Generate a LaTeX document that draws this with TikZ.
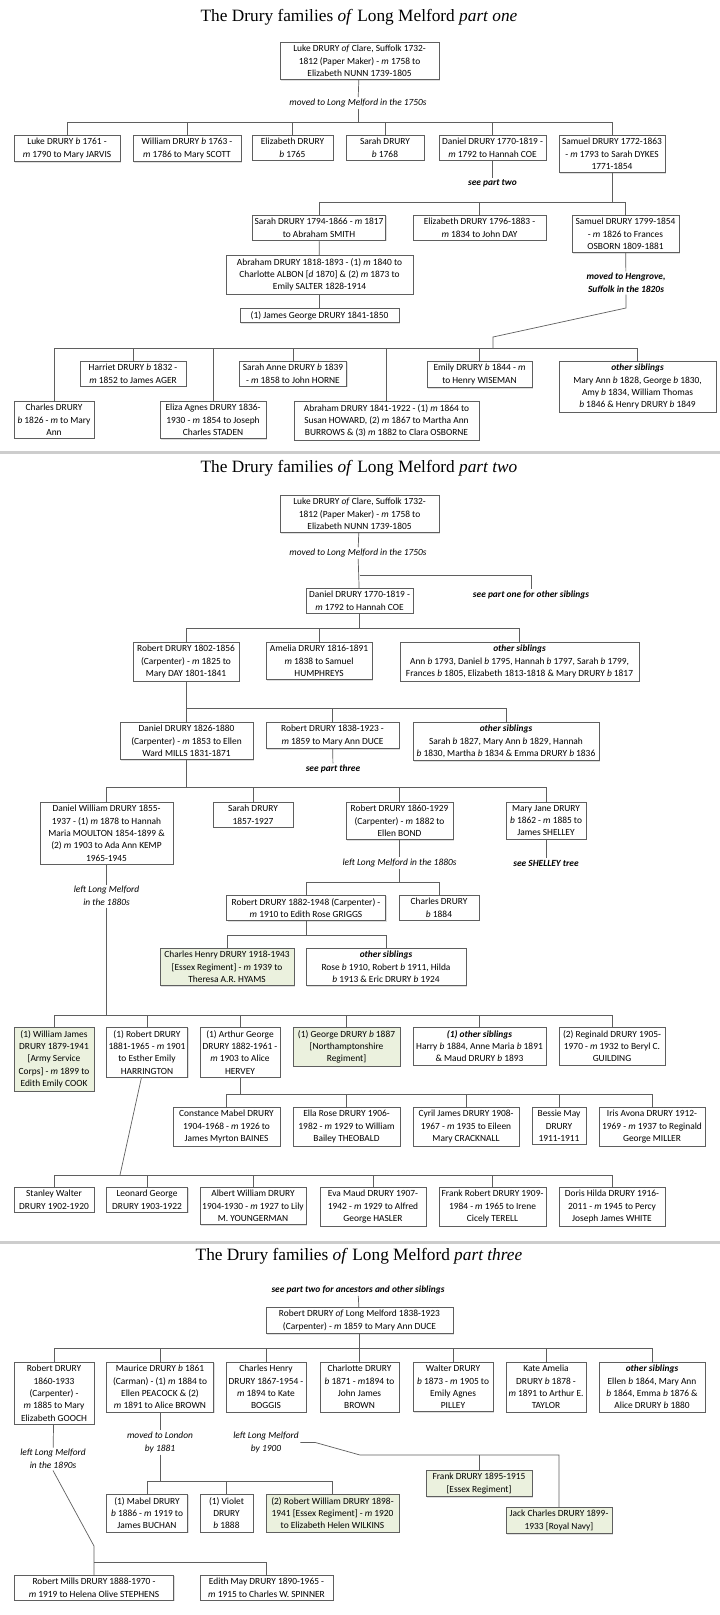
\documentclass[tikz,border=0pt]{standalone}
\usepackage{fontspec}
\setmainfont{Carlito}
\newfontfamily\headfont{Liberation Serif}
\usepackage{tikz}
\usetikzlibrary{shadows}
\usepackage{xcolor}
\definecolor{leafgreen}{RGB}{235,241,222}
\definecolor{linegray}{RGB}{95,95,95}
\definecolor{rulegray}{RGB}{205,205,205}
\newcommand{\bn}{\textit{b}}
\newcommand{\mn}{\textit{m}}
\newcommand{\dn}{\textit{d}}

\begin{document}
\begin{tikzpicture}[x=1pt, y=-1pt,
    box/.style={rectangle, draw=linegray, line width=0.7pt, fill=white, anchor=north, align=center, inner xsep=1pt, inner ysep=3pt, font=\fontsize{9.4}{12.3}\selectfont, drop shadow={shadow xshift=1pt, shadow yshift=-1pt, opacity=0.25}},
    greenbox/.style={box, fill=leafgreen},
    wd/.style={minimum width=#1pt},
    note/.style={align=center, inner sep=1.5pt, font=\fontsize{9.4}{13}\selectfont\itshape},
    seenote/.style={note, font=\fontsize{9.4}{13}\selectfont\bfseries\itshape},
    heading/.style={font=\headfont\fontsize{17.3}{20}\selectfont, inner sep=0pt},
    link/.style={draw=linegray, line width=0.7pt},
    rule/.style={draw=rulegray, line width=3pt}
]
    \fill[white] (0,0) rectangle (720,1615);
    \useasboundingbox (0,0) rectangle (720,1615);

    \node[heading] (titlea) at (359,17) {The Drury families \textit{of} Long Melford \textit{part one}};
    \node[box, wd=159] (lukea) at (359.5,42) {Luke DRURY \textit{of} Clare, Suffolk 1732-\\1812 (Paper Maker) - \mn{} 1758 to\\Elizabeth NUNN 1739-1805};
    \node[note] (moveda) at (358,103) {moved to Long Melford in the 1750s};
    \coordinate (busa) at (0,122);
    \node[box, wd=106] (luke) at (67,135) {Luke DRURY \bn{} 1761 -\\\mn{} 1790 to Mary JARVIS};
    \node[box, wd=108] (william) at (187,135) {William DRURY \bn{} 1763 -\\\mn{} 1786 to Mary SCOTT};
    \node[box, wd=81] (elizabeth) at (292.5,135) {Elizabeth DRURY\\\bn{} 1765};
    \node[box, wd=78] (sarah) at (385,135) {Sarah DRURY\\\bn{} 1768};
    \node[box, wd=107] (daniel) at (492.5,135) {Daniel DRURY 1770-1819 -\\\mn{} 1792 to Hannah COE};
    \node[box, wd=106] (samuel) at (612,135) {Samuel DRURY 1772-1863\\- \mn{} 1793 to Sarah DYKES\\1771-1854};
    \node[seenote] (seetwo) at (492.5,183) {see part two};
    \coordinate (busb) at (0,202);
    \node[box, wd=133] (sarahsmith) at (319,215) {Sarah DRURY 1794-1866 - \mn{} 1817\\to Abraham SMITH};
    \node[box, wd=133] (elizday) at (479.5,215) {Elizabeth DRURY 1796-1883 -\\\mn{} 1834 to John DAY};
    \node[box, wd=107] (samjr) at (625.5,215) {Samuel DRURY 1799-1854\\- \mn{} 1826 to Frances\\OSBORN 1809-1881};
    \node[seenote] (hengrove) at (626,283) {moved to Hengrove,\\Suffolk in the 1820s};
    \node[box, wd=187] (abraham) at (319.5,255) {Abraham DRURY 1818-1893 - (1) \mn{} 1840 to\\Charlotte ALBON {[}\dn{} 1870] \& (2) \mn{} 1873 to\\Emily SALTER 1828-1914};
    \node[box, wd=159] (jamesg) at (319.5,308) {(1) James George DRURY 1841-1850};
    \coordinate (benda) at (626,308);
    \coordinate (bendb) at (493,337);
    \coordinate (busc) at (0,348);
    \node[box, wd=106] (harriet) at (133,361) {Harriet DRURY \bn{} 1832 -\\\mn{} 1852 to James AGER};
    \node[box, wd=107] (sarahanne) at (293,361) {Sarah Anne DRURY \bn{} 1839\\- \mn{} 1858 to John HORNE};
    \node[box, wd=105] (emily) at (479.5,361) {Emily DRURY \bn{} 1844 - \mn\\to Henry WISEMAN};
    \node[box, wd=157] (othersa) at (637.5,361) {\textbf{\textit{other siblings}}\\Mary Ann \bn{} 1828, George \bn{} 1830,\\Amy \bn{} 1834, William Thomas\\\bn{} 1846 \& Henry DRURY \bn{} 1849};
    \node[box, wd=80] (charles) at (54,401) {Charles DRURY\\\bn{} 1826 - \mn{} to Mary\\Ann};
    \node[box, wd=106] (eliza) at (213,401) {Eliza Agnes DRURY 1836-\\1930 - \mn{} 1854 to Joseph\\Charles STADEN};
    \node[box, wd=185] (abrahamjr) at (386.5,401) {Abraham DRURY 1841-1922 - (1) \mn{} 1864 to\\Susan HOWARD, (2) \mn{} 1867 to Martha Ann\\BURROWS \& (3) \mn{} 1882 to Clara OSBORNE};

    \draw[link] (lukea) -- (moveda);
    \draw[link] (moveda) -- (moveda |- busa);
    \draw[link] (luke.north) -- (luke.north |- busa) -- (samuel.north |- busa) -- (samuel.north)
        (william.north) -- (william.north |- busa) (elizabeth.north) -- (elizabeth.north |- busa)
        (sarah.north) -- (sarah.north |- busa) (daniel.north) -- (daniel.north |- busa);
    \draw[link] (daniel) -- (seetwo);
    \draw[link] (samuel) -- (samuel |- busb);
    \draw[link] (sarahsmith.north) -- (sarahsmith.north |- busb) -- (samjr.north |- busb) -- (samjr.north)
        (elizday.north) -- (elizday.north |- busb);
    \draw[link] (sarahsmith) -- (abraham);
    \draw[link] (abraham) -- (jamesg);
    \draw[link] (samjr) -- (hengrove);
    \draw[link] (hengrove) -- (benda) -- (bendb) -- (bendb |- busc);
    \draw[link] (charles.north) -- (charles.north |- busc) -- (othersa.north |- busc) -- (othersa.north)
        (harriet.north) -- (harriet.north |- busc) (eliza.north) -- (eliza.north |- busc)
        (sarahanne.north) -- (sarahanne.north |- busc) (abrahamjr.north) -- (abrahamjr.north |- busc)
        (emily.north) -- (emily.north |- busc);

    \draw[rule] (0,452) -- (720,452);

    \node[heading] (titleb) at (359,468) {The Drury families \textit{of} Long Melford \textit{part two}};
    \node[box, wd=159] (lukeb) at (359.5,495) {Luke DRURY \textit{of} Clare, Suffolk 1732-\\1812 (Paper Maker) - \mn{} 1758 to\\Elizabeth NUNN 1739-1805};
    \node[note] (movedb) at (358,553) {moved to Long Melford in the 1750s};
    \coordinate (forkb) at (359.5,575);
    \node[seenote] (seeone) at (531,595) {see part one for other siblings};
    \node[box, wd=107] (danielb) at (359.5,588) {Daniel DRURY 1770-1819 -\\\mn{} 1792 to Hannah COE};
    \coordinate (busd) at (0,628);
    \node[box, wd=106] (robertb) at (186,642) {Robert DRURY 1802-1856\\(Carpenter) - \mn{} 1825 to\\Mary DAY 1801-1841};
    \node[box, wd=106] (amelia) at (319,642) {Amelia DRURY 1816-1891\\\mn{} 1838 to Samuel\\HUMPHREYS};
    \node[box, wd=239] (othersb) at (519.5,642) {\textbf{\textit{other siblings}}\\Ann \bn{} 1793, Daniel \bn{} 1795, Hannah \bn{} 1797, Sarah \bn{} 1799,\\Frances \bn{} 1805, Elizabeth 1813-1818 \& Mary DRURY \bn{} 1817};
    \coordinate (buse) at (0,708);
    \node[box, wd=133] (danielc) at (186.5,722) {Daniel DRURY 1826-1880\\(Carpenter) - \mn{} 1853 to Ellen\\Ward MILLS 1831-1871};
    \node[box, wd=133] (robertc) at (332.5,722) {Robert DRURY 1838-1923 -\\\mn{} 1859 to Mary Ann DUCE};
    \node[box, wd=186] (othersc) at (506,722) {\textbf{\textit{other siblings}}\\Sarah \bn{} 1827, Mary Ann \bn{} 1829, Hannah\\\bn{} 1830, Martha \bn{} 1834 \& Emma DRURY \bn{} 1836};
    \node[seenote] (seethree) at (333,769) {see part three};
    \coordinate (busf) at (0,787);
    \node[box, wd=133] (danielw) at (106.5,802) {Daniel William DRURY 1855-\\1937 - (1) \mn{} 1878 to Hannah\\Maria MOULTON 1854-1899 \&\\(2) \mn{} 1903 to Ada Ann KEMP\\1965-1945};
    \node[box, wd=80] (sarahc) at (253,802) {Sarah DRURY\\1857-1927};
    \node[box, wd=107] (robertd) at (399.5,802) {Robert DRURY 1860-1929\\(Carpenter) - \mn{} 1882 to\\Ellen BOND};
    \node[box, wd=80] (maryjane) at (546,802) {Mary Jane DRURY\\\bn{} 1862 - \mn{} 1885 to\\James SHELLEY};
    \node[seenote] (seeshelley) at (546,863) {see SHELLEY tree};
    \node[note] (leftb) at (399.5,863) {left Long Melford in the 1880s};
    \coordinate (busg) at (0,882);
    \node[box, wd=159] (roberte) at (306,895) {Robert DRURY 1882-1948 (Carpenter) -\\\mn{} 1910 to Edith Rose GRIGGS};
    \node[box, wd=80] (charlesd) at (439,895) {Charles DRURY\\\bn{} 1884};
    \coordinate (bush) at (0,935);
    \node[greenbox, wd=134] (charlesh) at (227,948) {Charles Henry DRURY 1918-1943\\{[}Essex Regiment] - \mn{} 1939 to\\Theresa A.R. HYAMS};
    \node[box, wd=160] (othersd) at (386,948) {\textbf{\textit{other siblings}}\\Rose \bn{} 1910, Robert \bn{} 1911, Hilda\\\bn{} 1913 \& Eric DRURY \bn{} 1924};
    \node[note] (leftc) at (106.5,896) {left Long Melford\\in the 1880s};
    \coordinate (busi) at (0,1015);
    \node[greenbox, wd=80] (williamj) at (54,1027) {(1) William James\\DRURY 1879-1941\\{[}Army Service\\Corps] - \mn{} 1899 to\\Edith Emily COOK};
    \node[box, wd=81] (robertf) at (147,1027) {(1) Robert DRURY\\1881-1965 - \mn{} 1901\\to Esther Emily\\HARRINGTON};
    \node[box, wd=80] (arthur) at (240,1027) {(1) Arthur George\\DRURY 1882-1961 -\\\mn{} 1903 to Alice\\HERVEY};
    \node[greenbox, wd=107] (george) at (346.5,1027) {(1) George DRURY \bn{} 1887\\{[}Northamptonshire\\Regiment]};
    \node[box, wd=133] (otherse) at (479.5,1027) {\textbf{\textit{(1) other siblings}}\\Harry \bn{} 1884, Anne Maria \bn{} 1891\\\& Maud DRURY \bn{} 1893};
    \node[box, wd=106] (reginald) at (612,1027) {(2) Reginald DRURY 1905-\\1970 - \mn{} 1932 to Beryl C.\\GUILDING};
    \coordinate (busj) at (0,1094);
    \node[box, wd=107] (constance) at (226.5,1107) {Constance Mabel DRURY\\1904-1968 - \mn{} 1926 to\\James Myrton BAINES};
    \node[box, wd=107] (ellarose) at (346.5,1107) {Ella Rose DRURY 1906-\\1982 - \mn{} 1929 to William\\Bailey THEOBALD};
    \node[box, wd=106] (cyril) at (466,1107) {Cyril James DRURY 1908-\\1967 - \mn{} 1935 to Eileen\\Mary CRACKNALL};
    \node[box, wd=54] (bessie) at (559,1107) {Bessie May\\DRURY\\1911-1911};
    \node[box, wd=106] (iris) at (652,1107) {Iris Avona DRURY 1912-\\1969 - \mn{} 1937 to Reginald\\George MILLER};
    \coordinate (bendc) at (120,1175);
    \node[box, wd=80] (stanley) at (54,1187) {Stanley Walter\\DRURY 1902-1920};
    \node[box, wd=81] (leonard) at (147,1187) {Leonard George\\DRURY 1903-1922};
    \node[box, wd=106] (albert) at (253,1187) {Albert William DRURY\\1904-1930 - \mn{} 1927 to Lily\\M. YOUNGERMAN};
    \node[box, wd=106] (eva) at (373,1187) {Eva Maud DRURY 1907-\\1942 - \mn{} 1929 to Alfred\\George HASLER};
    \node[box, wd=107] (frankr) at (492.5,1187) {Frank Robert DRURY 1909-\\1984 - \mn{} 1965 to Irene\\Cicely TERELL};
    \node[box, wd=106] (doris) at (612,1187) {Doris Hilda DRURY 1916-\\2011 - \mn{} 1945 to Percy\\Joseph James WHITE};

    \draw[link] (lukeb) -- (movedb);
    \draw[link] (movedb) -- (danielb);
    \draw[link] (forkb) -| (seeone);
    \draw[link] (danielb) -- (danielb |- busd);
    \draw[link] (robertb.north) -- (robertb.north |- busd) -- (othersb.north |- busd) -- (othersb.north)
        (amelia.north) -- (amelia.north |- busd);
    \draw[link] (robertb) -- (robertb |- buse);
    \draw[link] (danielc.north) -- (danielc.north |- buse) -- (othersc.north |- buse) -- (othersc.north)
        (robertc.north) -- (robertc.north |- buse);
    \draw[link] (robertc) -- (seethree);
    \draw[link] (danielc) -- (danielc |- busf);
    \draw[link] (danielw.north) -- (danielw.north |- busf) -- (maryjane.north |- busf) -- (maryjane.north)
        (sarahc.north) -- (sarahc.north |- busf) (robertd.north) -- (robertd.north |- busf);
    \draw[link] (maryjane) -- (seeshelley);
    \draw[link] (robertd) -- (leftb);
    \draw[link] (leftb) -- (leftb |- busg);
    \draw[link] (roberte.north) -- (roberte.north |- busg) -- (charlesd.north |- busg) -- (charlesd.north);
    \draw[link] (roberte) -- (roberte |- bush);
    \draw[link] (charlesh.north) -- (charlesh.north |- bush) -- (othersd.north |- bush) -- (othersd.north);
    \draw[link] (danielw) -- (leftc);
    \draw[link] (leftc) -- (leftc |- busi);
    \draw[link] (williamj.north) -- (williamj.north |- busi) -- (reginald.north |- busi) -- (reginald.north)
        (robertf.north) -- (robertf.north |- busi) (arthur.north) -- (arthur.north |- busi)
        (george.north) -- (george.north |- busi) (otherse.north) -- (otherse.north |- busi);
    \draw[link] (arthur) -- (arthur |- busj);
    \draw[link] (constance.north) -- (constance.north |- busj) -- (iris.north |- busj) -- (iris.north)
        (ellarose.north) -- (ellarose.north |- busj) (cyril.north) -- (cyril.north |- busj)
        (bessie.north) -- (bessie.north |- busj);
    \draw[link] (robertf) -- (bendc);
    \draw[link] (stanley.north) -- (stanley.north |- bendc) -- (doris.north |- bendc) -- (doris.north)
        (leonard.north) -- (leonard.north |- bendc) (albert.north) -- (albert.north |- bendc)
        (eva.north) -- (eva.north |- bendc) (frankr.north) -- (frankr.north |- bendc);

    \draw[rule] (0,1242) -- (720,1242);

    \node[heading] (titlec) at (359,1256) {The Drury families \textit{of} Long Melford \textit{part three}};
    \node[seenote] (seeanc) at (358,1290) {see part two for ancestors and other siblings};
    \node[box, wd=187] (robertg) at (359.5,1307) {Robert DRURY \textit{of} Long Melford 1838-1923\\(Carpenter) - \mn{} 1859 to Mary Ann DUCE};
    \coordinate (busk) at (0,1348);
    \node[box, wd=80] (robertp) at (54,1362) {Robert DRURY\\1860-1933\\(Carpenter) -\\\mn{} 1885 to Mary\\Elizabeth GOOCH};
    \node[box, wd=107] (maurice) at (160,1362) {Maurice DRURY \bn{} 1861\\(Carman) - (1) \mn{} 1884 to\\Ellen PEACOCK \& (2)\\\mn{} 1891 to Alice BROWN};
    \node[box, wd=80] (charlesi) at (266,1362) {Charles Henry\\DRURY 1867-1954 -\\\mn{} 1894 to Kate\\BOGGIS};
    \node[box, wd=79] (charlotte) at (359.5,1362) {Charlotte DRURY\\\bn{} 1871 - \mn{}1894 to\\John James\\BROWN};
    \node[box, wd=80] (walter) at (453,1362) {Walter DRURY\\\bn{} 1873 - \mn{} 1905 to\\Emily Agnes\\PILLEY};
    \node[box, wd=80] (kate) at (546,1362) {Kate Amelia\\DRURY \bn{} 1878 -\\\mn{} 1891 to Arthur E.\\TAYLOR};
    \node[box, wd=106] (othersf) at (652,1362) {\textbf{\textit{other siblings}}\\Ellen \bn{} 1864, Mary Ann\\\bn{} 1864, Emma \bn{} 1876 \&\\Alice DRURY \bn{} 1880};
    \node[note] (movedc) at (160,1442.5) {moved to London\\by 1881};
    \node[note] (leftd) at (266,1442.5) {left Long Melford\\by 1900};
    \node[note] (lefte) at (53,1459) {left Long Melford\\in the 1890s};
    \coordinate (busl) at (0,1481);
    \node[box, wd=81] (mabel) at (147,1494) {(1) Mabel DRURY\\\bn{} 1886 - \mn{} 1919 to\\James BUCHAN};
    \node[box, wd=53] (violet) at (226.5,1494) {(1) Violet\\DRURY\\\bn{} 1888};
    \node[greenbox, wd=133] (robertw) at (332.5,1494) {(2) Robert William DRURY 1898-\\1941 {[}Essex Regiment] - \mn{} 1920\\to Elizabeth Helen WILKINS};
    \coordinate (bendd) at (360,1455);
    \coordinate (bende) at (559,1455);
    \node[greenbox, wd=106] (frankd) at (479,1470) {Frank DRURY 1895-1915\\{[}Essex Regiment]};
    \node[greenbox, wd=106] (jack) at (559,1507) {Jack Charles DRURY 1899-\\1933 {[}Royal Navy]};
    \coordinate (bendf) at (94,1546);
    \coordinate (busm) at (0,1562);
    \node[box, wd=159] (robertm) at (94,1575) {Robert Mills DRURY 1888-1970 -\\\mn{} 1919 to Helena Olive STEPHENS};
    \node[box, wd=133] (edith) at (266.5,1575) {Edith May DRURY 1890-1965 -\\\mn{} 1915 to Charles W. SPINNER};

    \draw[link] (seeanc) -- (robertg);
    \draw[link] (robertg) -- (robertg |- busk);
    \draw[link] (robertp.north) -- (robertp.north |- busk) -- (othersf.north |- busk) -- (othersf.north)
        (maurice.north) -- (maurice.north |- busk) (charlesi.north) -- (charlesi.north |- busk)
        (charlotte.north) -- (charlotte.north |- busk) (walter.north) -- (walter.north |- busk)
        (kate.north) -- (kate.north |- busk);
    \draw[link] (maurice) -- (movedc);
    \draw[link] (movedc) -- (movedc |- busl);
    \draw[link] (mabel.north) -- (mabel.north |- busl) -- (robertw.north |- busl) -- (robertw.north)
        (violet.north) -- (violet.north |- busl);
    \draw[link] (leftd.east) -- ++(15,0) -- (bendd) -- (bende) -- (jack);
    \draw[link] (frankd) -- (frankd |- bendd);
    \draw[link] (robertp) -- (lefte);
    \draw[link] (lefte.south) -- (bendf) -- (robertm);
    \draw[link] (robertm.north |- busm) -| (edith);
\end{tikzpicture}
\end{document}
